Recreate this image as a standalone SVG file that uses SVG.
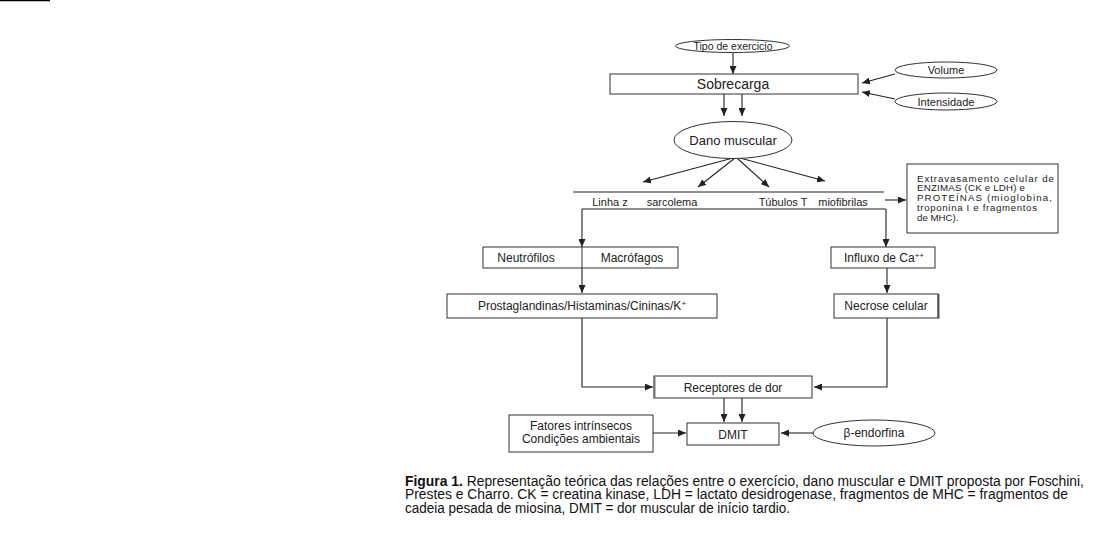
<svg xmlns="http://www.w3.org/2000/svg" width="1107" height="534" viewBox="0 0 1107 534">
<style>
.bx{fill:#fff;stroke:#333;stroke-width:1}
.el{fill:#fff;stroke:#333;stroke-width:1}
.t{font-family:"Liberation Sans",Arial,sans-serif;fill:#222;text-anchor:middle}
.tl{font-family:"Liberation Sans",Arial,sans-serif;fill:#222;font-size:9.7px}
.c{fill:none;stroke:#222;stroke-width:1.1}
.a{marker-end:url(#ah)}
.cap{font-family:"Liberation Sans",Arial,sans-serif;fill:#111;font-size:13.8px}
</style>
<defs>
<marker id="ah" markerUnits="userSpaceOnUse" markerWidth="8" markerHeight="7" refX="8" refY="3.5" orient="auto">
<path d="M0,0 L8,3.5 L0,7 z" fill="#222"/>
</marker>
</defs>
<rect width="1107" height="534" fill="#fff"/>
<line x1="0" y1="0.5" x2="50" y2="0.5" stroke="#000" stroke-width="1.5"/>

<g id="connectors">
<path class="c a" d="M733,52 V74"/>
<path class="c a" d="M895,74 L862,83"/>
<path class="c a" d="M895,99 L862,92"/>
<path class="c a" d="M724,94 V116"/>
<path class="c a" d="M742,94 V116"/>
<path class="c a" d="M733,158 L643,182"/>
<path class="c a" d="M735,158 L698,187"/>
<path class="c a" d="M737,158 L769,187"/>
<path class="c a" d="M740,158 L825,181"/>
<path class="c" d="M573,192 H884"/>
<path class="c a" d="M885,200 H906"/>
<path class="c" d="M582,209 H886"/>
<path class="c a" d="M582,209 V247"/>
<path class="c a" d="M886,209 V247"/>
<path class="c a" d="M582,268 V293"/>
<path class="c a" d="M887,268 V293"/>
<path class="c a" d="M582,318 V387 H653"/>
<path class="c a" d="M887,318 V387 H814"/>
<path class="c a" d="M724,398 V422"/>
<path class="c a" d="M742,398 V422"/>
<path class="c a" d="M653,433 H686"/>
<path class="c a" d="M813,433 H781"/>
</g>

<g id="tipo">
<ellipse class="el" cx="732.5" cy="46" rx="57" ry="6.5"/>
<text class="t" x="733" y="49.5" font-size="10.5">Tipo de exercicio</text>
</g>
<g id="sobrecarga">
<rect class="bx" x="610" y="74" width="248" height="20"/>
<text class="t" x="733" y="89" font-size="14">Sobrecarga</text>
</g>
<g id="volume">
<ellipse class="el" cx="946" cy="70" rx="51" ry="8"/>
<text class="t" x="946" y="74" font-size="11">Volume</text>
</g>
<g id="intensidade">
<ellipse class="el" cx="946" cy="101.5" rx="51" ry="8.5"/>
<text class="t" x="946" y="105.5" font-size="11">Intensidade</text>
</g>
<g id="dano">
<ellipse class="el" cx="733" cy="140" rx="59" ry="18.5"/>
<text class="t" x="733" y="144.5" font-size="13">Dano muscular</text>
</g>
<g id="estruturas">
<text class="t" x="610" y="206" font-size="11">Linha z</text>
<text class="t" x="672" y="206" font-size="11">sarcolema</text>
<text class="t" x="783" y="206" font-size="11">Túbulos T</text>
<text class="t" x="843" y="206" font-size="11">miofibrilas</text>
</g>
<g id="extravasamento">
<rect class="bx" x="907" y="164" width="151" height="69"/>
<text class="tl" x="917" y="181.5" textLength="137" lengthAdjust="spacing">Extravasamento celular de</text>
<text class="tl" x="917" y="191.3" textLength="108" lengthAdjust="spacing">ENZIMAS (CK e LDH) e</text>
<text class="tl" x="917" y="201" textLength="135" lengthAdjust="spacing">PROTEÍNAS (mioglobina,</text>
<text class="tl" x="917" y="210.8" textLength="120" lengthAdjust="spacing">troponina I e fragmentos</text>
<text class="tl" x="917" y="220.5">de MHC).</text>
</g>
<g id="neutrofilos">
<rect class="bx" x="483" y="247" width="195" height="21"/>
<line x1="582" y1="247" x2="582" y2="268" stroke="#333"/>
<text class="t" x="526" y="261.5" font-size="12">Neutrófilos</text>
<text class="t" x="632" y="261.5" font-size="12">Macrófagos</text>
</g>
<g id="influxo">
<rect class="bx" x="831" y="247" width="104" height="21"/>
<text class="t" x="884" y="261.5" font-size="12">Influxo de Ca<tspan font-size="8" dy="-4">++</tspan></text>
</g>
<g id="prostaglandinas">
<rect class="bx" x="447" y="294" width="270" height="24"/>
<text class="t" x="582" y="310" font-size="12">Prostaglandinas/Histaminas/Cininas/K<tspan font-size="8" dy="-4">+</tspan></text>
</g>
<g id="necrose">
<rect class="bx" x="834" y="294" width="104" height="24"/>
<line x1="938.5" y1="294" x2="938.5" y2="318.5" stroke="#555" stroke-width="2"/>
<text class="t" x="886" y="310" font-size="12">Necrose celular</text>
</g>
<g id="receptores">
<rect class="bx" x="654" y="376" width="158" height="22"/>
<line x1="654.5" y1="376" x2="654.5" y2="398" stroke="#777" stroke-width="2"/>
<text class="t" x="733" y="391.5" font-size="12">Receptores de dor</text>
</g>
<g id="fatores">
<rect class="bx" x="509" y="415" width="144" height="37"/>
<text class="t" x="581" y="430" font-size="12">Fatores intrínsecos</text>
<text class="t" x="581" y="443" font-size="12">Condições ambientais</text>
</g>
<g id="dmit">
<rect class="bx" x="687" y="423" width="92" height="22"/>
<text class="t" x="733" y="438.5" font-size="12">DMIT</text>
</g>
<g id="endorfina">
<ellipse class="el" cx="874" cy="433" rx="61" ry="13"/>
<text class="t" x="874" y="437" font-size="12">β-endorfina</text>
</g>

<g id="caption">
<text class="cap" x="405" y="485.5" textLength="679" lengthAdjust="spacingAndGlyphs"><tspan font-weight="bold">Figura 1.</tspan> Representação teórica das relações entre o exercício, dano muscular e DMIT proposta por Foschini,</text>
<text class="cap" x="405" y="499" textLength="663" lengthAdjust="spacingAndGlyphs">Prestes e Charro. CK = creatina kinase, LDH = lactato desidrogenase, fragmentos de MHC = fragmentos de</text>
<text class="cap" x="405" y="512.5" textLength="385" lengthAdjust="spacingAndGlyphs">cadeia pesada de miosina, DMIT = dor muscular de início tardio.</text>
</g>
</svg>
